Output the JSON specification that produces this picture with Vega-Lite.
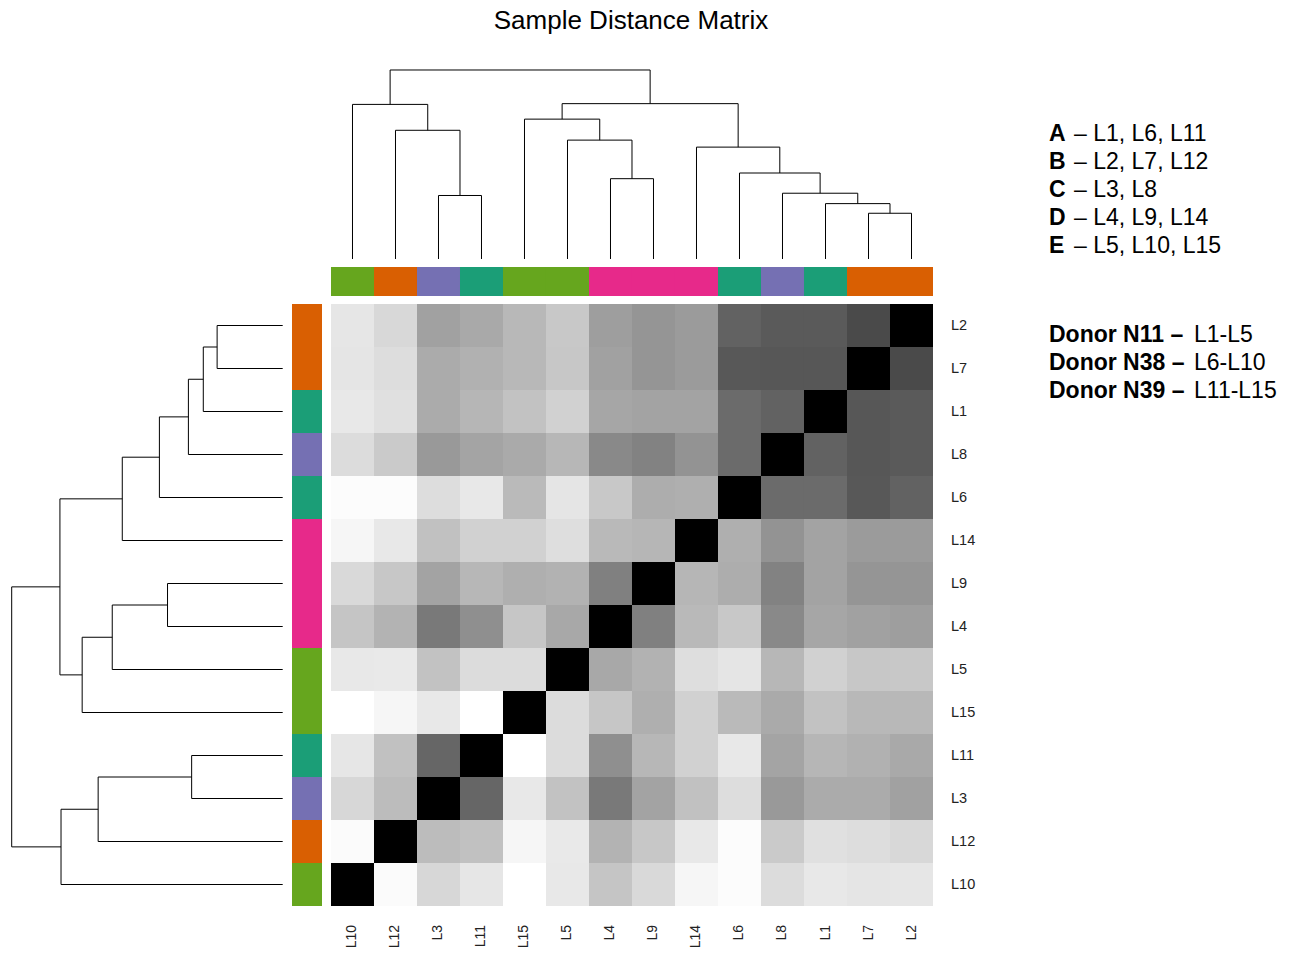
{
  "$schema": "https://vega.github.io/schema/vega-lite/v6.json",
  "width": 1291,
  "height": 954,
  "autosize": {"type": "fit", "contains": "padding"},
  "padding": 0,
  "background": "#ffffff",
  "config": {"view": {"stroke": null}, "font": "Liberation Sans"},
  "datasets": {
    "order": [
      {"id": "L10", "i": 0, "grp": "E"}, {"id": "L12", "i": 1, "grp": "B"}, {"id": "L3", "i": 2, "grp": "C"},
      {"id": "L11", "i": 3, "grp": "A"}, {"id": "L15", "i": 4, "grp": "E"}, {"id": "L5", "i": 5, "grp": "E"},
      {"id": "L4", "i": 6, "grp": "D"}, {"id": "L9", "i": 7, "grp": "D"}, {"id": "L14", "i": 8, "grp": "D"},
      {"id": "L6", "i": 9, "grp": "A"}, {"id": "L8", "i": 10, "grp": "C"}, {"id": "L1", "i": 11, "grp": "A"},
      {"id": "L7", "i": 12, "grp": "B"}, {"id": "L2", "i": 13, "grp": "B"}
    ],
    "dist": [
      {"r": "L2", "L10": 230, "L12": 216, "L3": 161, "L11": 169, "L15": 184, "L5": 200, "L4": 158, "L9": 149, "L14": 155, "L6": 98, "L8": 90, "L1": 90, "L7": 74, "L2": 0},
      {"r": "L7", "L10": 229, "L12": 221, "L3": 171, "L11": 177, "L15": 184, "L5": 199, "L4": 161, "L9": 149, "L14": 155, "L6": 88, "L8": 87, "L1": 87, "L7": 0, "L2": 74},
      {"r": "L1", "L10": 232, "L12": 224, "L3": 171, "L11": 182, "L15": 194, "L5": 209, "L4": 166, "L9": 163, "L14": 163, "L6": 107, "L8": 98, "L1": 0, "L7": 87, "L2": 90},
      {"r": "L8", "L10": 220, "L12": 202, "L3": 153, "L11": 164, "L15": 170, "L5": 183, "L4": 137, "L9": 130, "L14": 147, "L6": 107, "L8": 0, "L1": 98, "L7": 87, "L2": 90},
      {"r": "L6", "L10": 252, "L12": 252, "L3": 221, "L11": 232, "L15": 186, "L5": 229, "L4": 200, "L9": 173, "L14": 175, "L6": 0, "L8": 107, "L1": 107, "L7": 88, "L2": 98},
      {"r": "L14", "L10": 246, "L12": 232, "L3": 193, "L11": 209, "L15": 209, "L5": 222, "L4": 185, "L9": 182, "L14": 0, "L6": 175, "L8": 147, "L1": 163, "L7": 155, "L2": 155},
      {"r": "L9", "L10": 217, "L12": 199, "L3": 163, "L11": 183, "L15": 175, "L5": 178, "L4": 128, "L9": 0, "L14": 182, "L6": 173, "L8": 130, "L1": 163, "L7": 149, "L2": 149},
      {"r": "L4", "L10": 197, "L12": 179, "L3": 121, "L11": 143, "L15": 198, "L5": 168, "L4": 0, "L9": 128, "L14": 185, "L6": 200, "L8": 137, "L1": 166, "L7": 161, "L2": 158},
      {"r": "L5", "L10": 232, "L12": 233, "L3": 194, "L11": 220, "L15": 220, "L5": 0, "L4": 168, "L9": 178, "L14": 222, "L6": 229, "L8": 183, "L1": 209, "L7": 199, "L2": 200},
      {"r": "L15", "L10": 255, "L12": 246, "L3": 232, "L11": 255, "L15": 0, "L5": 220, "L4": 198, "L9": 175, "L14": 209, "L6": 186, "L8": 170, "L1": 194, "L7": 184, "L2": 184},
      {"r": "L11", "L10": 230, "L12": 193, "L3": 102, "L11": 0, "L15": 255, "L5": 220, "L4": 143, "L9": 183, "L14": 209, "L6": 232, "L8": 164, "L1": 182, "L7": 177, "L2": 169},
      {"r": "L3", "L10": 215, "L12": 188, "L3": 0, "L11": 102, "L15": 232, "L5": 194, "L4": 121, "L9": 163, "L14": 193, "L6": 221, "L8": 153, "L1": 171, "L7": 171, "L2": 161},
      {"r": "L12", "L10": 251, "L12": 0, "L3": 188, "L11": 193, "L15": 246, "L5": 233, "L4": 179, "L9": 199, "L14": 232, "L6": 252, "L8": 202, "L1": 224, "L7": 221, "L2": 216},
      {"r": "L10", "L10": 0, "L12": 251, "L3": 215, "L11": 230, "L15": 255, "L5": 232, "L4": 197, "L9": 217, "L14": 246, "L6": 252, "L8": 220, "L1": 232, "L7": 229, "L2": 230}
    ],
    "tree": [
      {"p": 2.5, "p2": 3.5, "h": 0.336, "h2": 0.336}, {"p": 2.5, "p2": 2.5, "h": 0, "h2": 0.336}, {"p": 3.5, "p2": 3.5, "h": 0, "h2": 0.336},
      {"p": 1.5, "p2": 3, "h": 0.681, "h2": 0.681}, {"p": 1.5, "p2": 1.5, "h": 0, "h2": 0.681}, {"p": 3, "p2": 3, "h": 0.336, "h2": 0.681},
      {"p": 0.5, "p2": 2.25, "h": 0.818, "h2": 0.818}, {"p": 0.5, "p2": 0.5, "h": 0, "h2": 0.818}, {"p": 2.25, "p2": 2.25, "h": 0.681, "h2": 0.818},
      {"p": 6.5, "p2": 7.5, "h": 0.425, "h2": 0.425}, {"p": 6.5, "p2": 6.5, "h": 0, "h2": 0.425}, {"p": 7.5, "p2": 7.5, "h": 0, "h2": 0.425},
      {"p": 5.5, "p2": 7, "h": 0.629, "h2": 0.629}, {"p": 5.5, "p2": 5.5, "h": 0, "h2": 0.629}, {"p": 7, "p2": 7, "h": 0.425, "h2": 0.629},
      {"p": 4.5, "p2": 6.25, "h": 0.74, "h2": 0.74}, {"p": 4.5, "p2": 4.5, "h": 0, "h2": 0.74}, {"p": 6.25, "p2": 6.25, "h": 0.629, "h2": 0.74},
      {"p": 12.5, "p2": 13.5, "h": 0.242, "h2": 0.242}, {"p": 12.5, "p2": 12.5, "h": 0, "h2": 0.242}, {"p": 13.5, "p2": 13.5, "h": 0, "h2": 0.242},
      {"p": 11.5, "p2": 13, "h": 0.293, "h2": 0.293}, {"p": 11.5, "p2": 11.5, "h": 0, "h2": 0.293}, {"p": 13, "p2": 13, "h": 0.242, "h2": 0.293},
      {"p": 10.5, "p2": 12.25, "h": 0.348, "h2": 0.348}, {"p": 10.5, "p2": 10.5, "h": 0, "h2": 0.348}, {"p": 12.25, "p2": 12.25, "h": 0.293, "h2": 0.348},
      {"p": 9.5, "p2": 11.375, "h": 0.455, "h2": 0.455}, {"p": 9.5, "p2": 9.5, "h": 0, "h2": 0.455}, {"p": 11.375, "p2": 11.375, "h": 0.348, "h2": 0.455},
      {"p": 8.5, "p2": 10.4375, "h": 0.592, "h2": 0.592}, {"p": 8.5, "p2": 8.5, "h": 0, "h2": 0.592}, {"p": 10.4375, "p2": 10.4375, "h": 0.455, "h2": 0.592},
      {"p": 5.375, "p2": 9.46875, "h": 0.822, "h2": 0.822}, {"p": 5.375, "p2": 5.375, "h": 0.74, "h2": 0.822}, {"p": 9.46875, "p2": 9.46875, "h": 0.592, "h2": 0.822},
      {"p": 1.375, "p2": 7.421875, "h": 1, "h2": 1}, {"p": 1.375, "p2": 1.375, "h": 0.818, "h2": 1}, {"p": 7.421875, "p2": 7.421875, "h": 0.822, "h2": 1}
    ],
    "groups": [
      {"k": "A", "m": "– L1, L6, L11", "line": 0},
      {"k": "B", "m": "– L2, L7, L12", "line": 1},
      {"k": "C", "m": "– L3, L8", "line": 2},
      {"k": "D", "m": "– L4, L9, L14", "line": 3},
      {"k": "E", "m": "– L5, L10, L15", "line": 4}
    ],
    "donors": [
      {"k": "Donor N11 –", "m": "L1-L5", "line": 7},
      {"k": "Donor N38 –", "m": "L6-L10", "line": 8},
      {"k": "Donor N39 –", "m": "L11-L15", "line": 9}
    ],
    "heading": [
      {"t": "Sample Distance Matrix", "line": -4.018}
    ]
  },
  "layer": [
    {
      "layer": [
        {
          "data": {"name": "dist"},
          "transform": [
            {"fold": ["L10", "L12", "L3", "L11", "L15", "L5", "L4", "L9", "L14", "L6", "L8", "L1", "L7", "L2"], "as": ["c", "d"]},
            {"lookup": "c", "from": {"data": {"name": "order"}, "key": "id", "fields": ["i"]}, "as": ["ci"]},
            {"lookup": "r", "from": {"data": {"name": "order"}, "key": "id", "fields": ["i"]}, "as": ["ri"]},
            {"calculate": "datum.ci + 1", "as": "ci1"},
            {"calculate": "datum.ri + 1", "as": "ri1"}
          ],
          "mark": {"type": "rect"},
          "encoding": {
            "x": {"field": "ci", "type": "quantitative", "scale": {"domain": [-7.69767, 22.32558], "nice": false, "zero": false}, "axis": null},
            "x2": {"field": "ci1"},
            "y": {"field": "ri", "type": "quantitative", "scale": {"domain": [-1.11628, 21.06977], "nice": false, "zero": false}, "axis": null},
            "y2": {"field": "ri1"},
            "fill": {"field": "d", "type": "quantitative", "scale": {"domain": [0, 255], "range": ["#000000", "#ffffff"], "interpolate": "rgb"}, "legend": null}
          }
        },
        {
          "data": {"name": "order"},
          "transform": [{"calculate": "datum.i + 1", "as": "i1"}],
          "mark": {"type": "rect"},
          "encoding": {
            "x": {"field": "i", "type": "quantitative", "scale": {"domain": [-7.69767, 22.32558], "nice": false, "zero": false}, "axis": null},
            "x2": {"field": "i1"},
            "y": {"datum": 14.86047, "type": "quantitative", "scale": {"domain": [-1.11628, 21.06977], "nice": false, "zero": false}, "axis": null},
            "y2": {"datum": 14.18605},
            "color": {"field": "grp", "type": "nominal", "scale": {"domain": ["A", "B", "C", "D", "E"], "range": ["#1B9E77", "#D95F02", "#7570B3", "#E7298A", "#66A61E"]}, "legend": null}
          }
        },
        {
          "data": {"name": "order"},
          "transform": [{"calculate": "datum.i + 1", "as": "i1"}],
          "mark": {"type": "rect"},
          "encoding": {
            "x": {"datum": -0.90698, "type": "quantitative", "scale": {"domain": [-7.69767, 22.32558], "nice": false, "zero": false}, "axis": null},
            "x2": {"datum": -0.2093},
            "y": {"field": "i", "type": "quantitative", "scale": {"domain": [-1.11628, 21.06977], "nice": false, "zero": false}, "axis": null},
            "y2": {"field": "i1"},
            "color": {"field": "grp", "type": "nominal", "scale": {"domain": ["A", "B", "C", "D", "E"], "range": ["#1B9E77", "#D95F02", "#7570B3", "#E7298A", "#66A61E"]}, "legend": null}
          }
        },
        {
          "data": {"name": "order"},
          "transform": [{"calculate": "datum.i + 0.5", "as": "ic"}],
          "mark": {"type": "text", "align": "left", "baseline": "middle", "fontSize": 14.5, "color": "#222222"},
          "encoding": {
            "x": {"datum": 14.4186, "type": "quantitative", "scale": {"domain": [-7.69767, 22.32558], "nice": false, "zero": false}, "axis": null},
            "y": {"field": "ic", "type": "quantitative", "scale": {"domain": [-1.11628, 21.06977], "nice": false, "zero": false}, "axis": null},
            "text": {"field": "id"}
          }
        },
        {
          "data": {"name": "order"},
          "transform": [{"calculate": "datum.i + 0.5", "as": "ic"}],
          "mark": {"type": "text", "align": "right", "baseline": "middle", "angle": 270, "fontSize": 14, "color": "#222222"},
          "encoding": {
            "x": {"field": "ic", "type": "quantitative", "scale": {"domain": [-7.69767, 22.32558], "nice": false, "zero": false}, "axis": null},
            "y": {"datum": -0.4419, "type": "quantitative", "scale": {"domain": [-1.11628, 21.06977], "nice": false, "zero": false}, "axis": null},
            "text": {"field": "id"}
          }
        }
      ]
    },
    {
      "data": {"name": "tree"},
      "mark": {"type": "rule", "color": "#000000", "strokeWidth": 1},
      "encoding": {
        "x": {"field": "p", "type": "quantitative", "scale": {"domain": [-7.69767, 22.32558], "nice": false, "zero": false}, "axis": null},
        "x2": {"field": "p2"},
        "y": {"field": "h", "type": "quantitative", "scale": {"domain": [-3.67725, 1.37037], "nice": false, "zero": false}, "axis": null},
        "y2": {"field": "h2"}
      }
    },
    {
      "data": {"name": "tree"},
      "mark": {"type": "rule", "color": "#000000", "strokeWidth": 1},
      "encoding": {
        "x": {"field": "h", "type": "quantitative", "scale": {"domain": [-3.72067, 1.04317], "reverse": true, "nice": false, "zero": false}, "axis": null},
        "x2": {"field": "h2"},
        "y": {"field": "p", "type": "quantitative", "scale": {"domain": [-1.11628, 21.06977], "nice": false, "zero": false}, "axis": null},
        "y2": {"field": "p2"}
      }
    },
    {
      "layer": [
        {
          "data": {"name": "heading"},
          "mark": {"type": "text", "align": "center", "baseline": "alphabetic", "fontSize": 26, "color": "#000000"},
          "encoding": {
            "x": {"datum": 6.9767, "type": "quantitative", "scale": {"domain": [-7.69767, 22.32558], "nice": false, "zero": false}, "axis": null},
            "y": {"field": "line", "type": "quantitative", "scale": {"domain": [-5.05357, 29.01786], "reverse": true, "nice": false, "zero": false}, "axis": null},
            "text": {"field": "t"}
          }
        },
        {
          "data": {"name": "groups"},
          "mark": {"type": "text", "align": "left", "baseline": "alphabetic", "fontSize": 23, "fontWeight": "bold", "color": "#000000"},
          "encoding": {
            "x": {"datum": 16.6977, "type": "quantitative", "scale": {"domain": [-7.69767, 22.32558], "nice": false, "zero": false}, "axis": null},
            "y": {"field": "line", "type": "quantitative", "scale": {"domain": [-5.05357, 29.01786], "reverse": true, "nice": false, "zero": false}, "axis": null},
            "text": {"field": "k"}
          }
        },
        {
          "data": {"name": "groups"},
          "mark": {"type": "text", "align": "left", "baseline": "alphabetic", "fontSize": 23, "dx": 25, "color": "#000000"},
          "encoding": {
            "x": {"datum": 16.6977, "type": "quantitative", "scale": {"domain": [-7.69767, 22.32558], "nice": false, "zero": false}, "axis": null},
            "y": {"field": "line", "type": "quantitative", "scale": {"domain": [-5.05357, 29.01786], "reverse": true, "nice": false, "zero": false}, "axis": null},
            "text": {"field": "m"}
          }
        },
        {
          "data": {"name": "donors"},
          "mark": {"type": "text", "align": "left", "baseline": "alphabetic", "fontSize": 23, "fontWeight": "bold", "dy": 4.5, "color": "#000000"},
          "encoding": {
            "x": {"datum": 16.6977, "type": "quantitative", "scale": {"domain": [-7.69767, 22.32558], "nice": false, "zero": false}, "axis": null},
            "y": {"field": "line", "type": "quantitative", "scale": {"domain": [-5.05357, 29.01786], "reverse": true, "nice": false, "zero": false}, "axis": null},
            "text": {"field": "k"}
          }
        },
        {
          "data": {"name": "donors"},
          "mark": {"type": "text", "align": "left", "baseline": "alphabetic", "fontSize": 23, "dx": 145, "dy": 4.5, "color": "#000000"},
          "encoding": {
            "x": {"datum": 16.6977, "type": "quantitative", "scale": {"domain": [-7.69767, 22.32558], "nice": false, "zero": false}, "axis": null},
            "y": {"field": "line", "type": "quantitative", "scale": {"domain": [-5.05357, 29.01786], "reverse": true, "nice": false, "zero": false}, "axis": null},
            "text": {"field": "m"}
          }
        }
      ]
    }
  ],
  "resolve": {"scale": {"x": "independent", "y": "independent"}}
}
